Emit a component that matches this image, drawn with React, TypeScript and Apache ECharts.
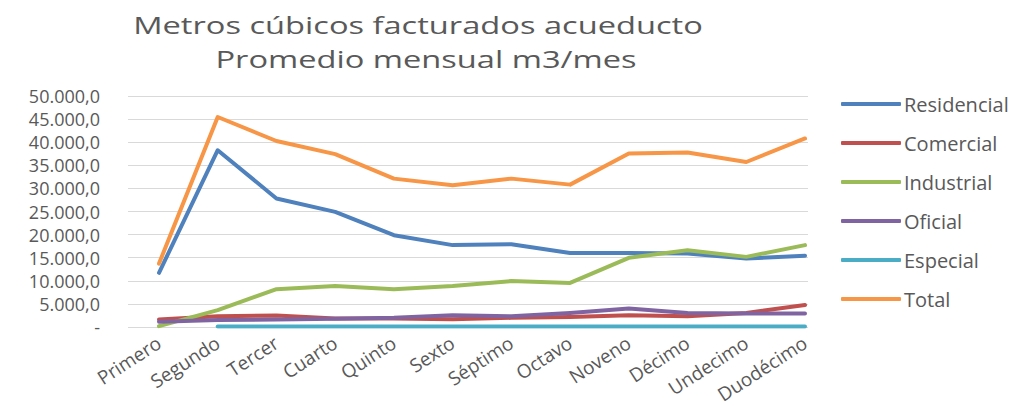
import React, { useEffect, useRef } from "react";
import * as echarts from "echarts";

const categories = ["Primero", "Segundo", "Tercer", "Cuarto", "Quinto", "Sexto", "Séptimo", "Octavo", "Noveno", "Décimo", "Undecimo", "Duodécimo"];
const residencial = [11700, 38250, 27800, 24900, 19850, 17700, 17900, 16000, 16000, 15900, 14800, 15400];
const comercial = [1600, 2300, 2450, 1800, 1800, 1650, 1950, 2150, 2500, 2300, 3000, 4700];
const industrial = [150, 3600, 8150, 8850, 8150, 8850, 9900, 9500, 14950, 16600, 15150, 17700];
const oficial = [1100, 1450, 1600, 1750, 1950, 2500, 2300, 3000, 3950, 3000, 2900, 2900];
const especial = [null, 80, 80, 80, 80, 80, 80, 80, 80, 80, 80, 80];
const total = [13700, 45450, 40250, 37400, 32100, 30650, 32100, 30800, 37550, 37750, 35700, 40800];

const seriesNames = ["Residencial", "Comercial", "Industrial", "Oficial", "Especial", "Total"];
const seriesData = [residencial, comercial, industrial, oficial, especial, total];
const colors = ["#4F81BD", "#C0504D", "#9BBB59", "#8064A2", "#4BACC6", "#F79646"];

const yMax = 50000;
const yStep = 5000;
const titleLines = ["Metros cúbicos facturados acueducto", "Promedio mensual m3/mes"];

const FONT = "'Open Sans', sans-serif";
const TXT = "#595959";

function fmt(v: number): string {
  if (v === 0) return "-";
  const s = Math.round(v).toString().replace(/\B(?=(\d{3})+(?!\d))/g, ".");
  return s + ",0";
}

export default function App() {
  const ref = useRef<HTMLDivElement>(null);
  useEffect(() => {
    if (!ref.current) return;
    const chart = echarts.init(ref.current, null, { renderer: "svg" });
    chart.setOption({
      animation: false,
      backgroundColor: "#ffffff",
      graphic: [
        {
          type: "text",
          x: 418,
          y: 24,
          scaleX: 1.36,
          style: { text: titleLines[0], fill: TXT, font: `24px ${FONT}`, textAlign: "center", textVerticalAlign: "middle" },
        },
        {
          type: "text",
          x: 426,
          y: 58,
          scaleX: 1.36,
          style: { text: titleLines[1], fill: TXT, font: `24px ${FONT}`, textAlign: "center", textVerticalAlign: "middle" },
        },
      ],
      legend: {
        orient: "vertical",
        left: 836,
        top: 89,
        itemWidth: 60,
        itemHeight: 4,
        itemGap: 19,
        icon: "roundRect",
        textStyle: { color: TXT, fontSize: 20, fontFamily: FONT, padding: [0, 0, 0, -2] },
        data: seriesNames,
      },
      grid: [
        { left: 128, right: 213, top: 96, bottom: 79, containLabel: false },
        { left: 159, right: 216, top: 96, bottom: 79, containLabel: false },
      ],
      xAxis: [
        { type: "category", gridIndex: 0, data: categories, show: false },
        {
          type: "category",
          gridIndex: 1,
          data: categories,
          boundaryGap: false,
          axisLine: { show: false },
          axisTick: { show: false },
          axisLabel: { rotate: 33, margin: 14, color: TXT, fontSize: 19, fontFamily: FONT, interval: 0 },
        },
      ],
      yAxis: [
        {
          type: "value",
          gridIndex: 0,
          min: 0,
          max: yMax,
          interval: yStep,
          axisLine: { show: false },
          axisTick: { show: false },
          splitLine: { lineStyle: { color: "#d9d9d9", width: 1 } },
          axisLabel: { color: TXT, fontSize: 18, lineHeight: 18, fontFamily: FONT, margin: 28, formatter: (v: number) => fmt(v) },
        },
        {
          type: "value",
          gridIndex: 1,
          min: 0,
          max: yMax,
          interval: yStep,
          show: false,
          splitLine: { show: false },
        },
      ],
      series: seriesNames.map((name, i) => ({
        name,
        type: "line",
        xAxisIndex: 1,
        yAxisIndex: 1,
        data: seriesData[i],
        symbol: "none",
        color: colors[i],
        lineStyle: { width: 4, color: colors[i], cap: "round", join: "round" },
        connectNulls: false,
        z: i === 5 ? 3 : 2,
      })),
    });
    return () => chart.dispose();
  }, []);
  return <div ref={ref} style={{ position: "fixed", left: 0, top: 0, width: 1021, height: 406 }} />;
}
